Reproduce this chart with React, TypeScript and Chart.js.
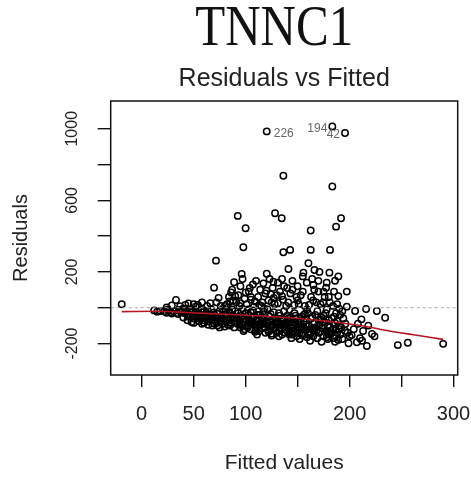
import React, { useEffect, useRef } from 'react';
import { Chart, registerables } from 'chart.js';

Chart.register(...registerables);

const mainTitle = 'TNNC1';
const caption = 'Residuals vs Fitted';
const xTitle = 'Fitted values';
const yTitle = 'Residuals';

const xMin = -29.8;
const xMax = 304;
const yMin = -376;
const yMax = 1155;

const xTickValues = [0, 50, 100, 150, 200, 250, 300];
const xTickLabels = ['0', '50', '100', '', '200', '', '300'];
const yTickValues = [-200, 0, 200, 400, 600, 800, 1000];
const yTickLabels = ['-200', '', '200', '', '600', '', '1000'];

const fittedValues = [
  120.3, 183.4, 195.6,
  136.3, 183.4, 92.4, 128.3, 134.7, 191.8, 187.0, 100.0, 162.6,
  97.8, 136.3, 142.8, 162.6, 181.2, 71.5, 141.2, 160.4, 166.2, 155.6, 171.0, 180.6,
  189.2, 186.0, 158.8, 165.2, 120.3, 126.7, 117.1, 96.2, 88.9, 69.6, 177.4, 197.3,
  189.2, 174.6, 197.3, 205.3, 215.9, 226.2, 234.2, 211.4, 221.6, 246.4, 256.0, 216.6,
  207.0, 199.0, 210.0, 202.0, 195.6, -19.2, 33.0, 290.0, 204.0, 208.0, 213.0, 218.0,
  224, 212, 15, 18, 12, 22, 24, 26, 28, 25, 29, 31,
  34, 36, 38, 35, 39, 37, 45, 41, 42, 44, 46, 48,
  47, 49, 43, 54, 51, 52, 53, 55, 56, 57, 58, 59,
  52, 56, 61, 62, 63, 64, 65, 66, 67, 68, 69, 63,
  66, 69, 60, 62, 71, 72, 73, 74, 75, 76, 77, 78,
  79, 72, 74, 76, 78, 73, 81, 82, 83, 84, 85, 86,
  87, 88, 89, 82, 84, 86, 88, 87, 85, 83, 91, 92,
  93, 94, 95, 96, 97, 98, 99, 91, 93, 95, 97, 99,
  94, 90, 96, 98, 101, 102, 103, 104, 105, 106, 107, 108,
  109, 101, 103, 105, 107, 109, 102, 104, 106, 108, 110, 111,
  112, 113, 114, 115, 116, 117, 118, 119, 112, 114, 116, 118,
  119, 111, 113, 115, 120, 121, 122, 123, 124, 125, 126, 127,
  128, 129, 122, 124, 126, 128, 130, 121, 123, 125, 127, 129,
  138, 131, 132, 133, 134, 135, 136, 137, 139, 131, 133, 135,
  137, 139, 132, 134, 136, 138, 140, 131, 141, 142, 143, 144,
  145, 146, 147, 148, 149, 141, 143, 145, 147, 149, 142, 144,
  146, 148, 150, 150, 151, 152, 153, 154, 155, 156, 157, 158,
  159, 151, 153, 155, 157, 159, 152, 154, 156, 160, 160, 161,
  162, 163, 164, 165, 166, 167, 168, 169, 161, 163, 164, 166,
  168, 170, 162, 167, 169, 170, 171, 172, 173, 174, 175, 176,
  177, 178, 179, 172, 176, 178, 180, 173, 175, 179, 181, 182,
  183, 184, 185, 186, 187, 188, 189, 181, 184, 186, 190, 185,
  191, 192, 193, 194, 196, 198, 191, 193, 200,
  40, 44, 48, 50, 55, 58, 60, 64, 68, 70, 75, 80,
  80, 85, 90, 95, 100, 105, 110, 115, 120, 125, 130, 135,
  140, 145, 150, 155, 165, 170, 175, 180, 185, 188, 190, 178,
  24, 29, 37, 42, 50, 58,
  57, 63, 70, 77, 83, 89, 96, 103, 110, 117, 124, 131,
  138, 145, 152, 159, 166, 173, 180, 187, 62, 88, 113, 148,
  45, 50, 54, 59, 64, 68, 72, 76, 81, 85, 90, 94,
  98, 102, 106, 110, 114, 118, 122, 126, 130, 134, 138, 142,
  146, 150, 154, 158, 162, 166, 170, 174, 178, 182, 186, 190,
  100, 108, 116, 124, 132, 140, 148, 156, 164, 172, 180, 188,
  87, 93, 99, 105, 111, 117, 123, 129, 135, 141, 147, 153,
];

const residualValues = [
  985, 1013, 976,
  737, 677, 513, 528, 500, 500, 453, 444, 431,
  338, 310, 323, 323, 323, 263, 216, 248, 211, 196, 200, 196,
  174, 151, 140, 127, 190, 145, 136, 189, 142, 112, 112, 90,
  65, 30, 6, -18, -7, -18, -56, -65, -147, -209, -196, -214,
  -193, -199, -171, -153, -129, 19, 43, -202, -120, -90, -130, -100,
  -160, -185, -22, -18, -15, -20, -28, -15, -25, -10, -32, -20,
  -30, -12, -25, -35, -8, -18, 24, -30, -15, -38, -20, -28,
  -45, -10, -5, 16, -35, -22, -45, -30, -50, -12, -40, -25,
  5, -60, -45, -30, -55, -20, -65, -38, -10, -50, -70, 10,
  25, -28, -15, -60, -50, -75, -35, -60, -20, -80, -45, -5,
  -65, 30, 55, 10, -90, -100, -40, -70, -95, -25, -55, -85,
  -10, -60, -110, 20, 60, 85, 40, 100, -30, 0, -60, -90,
  -30, -75, -110, -45, -5, -80, -120, 30, 70, 120, 160, 50,
  10, -20, -95, -130, -70, -100, -40, -85, -120, -55, -15, -95,
  -135, 20, 90, 60, 130, 35, -10, 110, -75, 5, -110, -60,
  -100, -130, -40, -80, -115, -20, -90, -140, 60, 100, 30, -5,
  80, -150, 15, -55, -75, -90, -125, -50, -105, -145, -70, -25,
  -115, -85, 40, 75, 110, 20, -60, -10, 160, -155, 55, -130,
  -100, -80, -130, -45, -110, -150, -65, -20, -125, 25, 90, 65,
  120, 10, -160, -95, 45, -140, -70, 140, -90, -135, -55, -115,
  -150, -75, -30, -120, -160, 30, 80, 100, 15, 60, -10, -170,
  -100, -45, -140, 40, -95, -140, -60, -120, -155, -80, -35, -125,
  -165, 20, 70, 90, 10, -10, -175, -50, -110, -150, -30, -100,
  -140, -60, -120, -160, -85, -40, -130, -170, 15, 60, 160, 100,
  30, -70, -185, -110, -20, 90, -95, -135, -55, -115, -160, -80,
  -30, -130, -175, 20, 60, -10, -150, -190, -45, -100, -110, -145,
  -60, -120, -170, -85, -30, -140, -180, 30, 10, -190, -100, -50,
  -150, -110, -175, -60, -90, -140, -40, -20, -160,
  -55, -70, -80, -85, -75, -90, -85, -95, -100, -90, -110, -105,
  10, 35, 65, 25, 85, 45, 150, 10, 95, 30, 70, 160,
  110, 150, 120, 175, 40, 150, 90, 60, 90, 20, -5, 140,
  2, 12, 8, 15, 20, 30,
  -62, -48, -68, -58, -72, -52, -88, -66, -92, -78, -100, -88,
  -108, -95, -118, -105, -128, -112, -138, -125, -35, -45, -40, -85,
  -50, -60, -55, -70, -75, -60, -85, -70, -80, -100, -75, -95,
  -65, -110, -90, -125, -100, -110, -135, -95, -140, -120, -85, -150,
  -130, -110, -145, -95, -150, -120, -140, -100, -165, -130, -155, -120,
  -30, -50, -60, -35, -30, -45, -60, -40, -50, -65, -70, -75,
  -45, -55, -60, -25, -40, -65, -80, -70, -90, -60, -85, -75,
];

// lowess smoother
const smoothX = [-19.2, 15, 46, 85, 120, 149, 181, 213, 229, 260, 290];
const smoothY = [-22, -20, -28, -38, -48, -59, -78, -102, -120, -150, -177];

// identified observations
const labelIds = ['226', '194', '42'];
const labelIndex = [0, 1, 2];
const labelSide = ['right', 'left', 'left'];

const sans = '"Liberation Sans", Arial, Helvetica, sans-serif';

const decorPlugin = {
  id: 'decor',
  afterDatasetsDraw(chart: any) {
    const { ctx, chartArea: a, scales } = chart;
    ctx.save();
    ctx.strokeStyle = '#111';
    ctx.lineWidth = 1.5;
    ctx.strokeRect(a.left, a.top, a.right - a.left, a.bottom - a.top);

    ctx.fillStyle = '#666';
    ctx.font = `12px ${sans}`;
    ctx.textBaseline = 'middle';
    labelIndex.forEach((idx, i) => {
      const px = scales.x.getPixelForValue(fittedValues[idx]);
      const py = scales.y.getPixelForValue(residualValues[idx]);
      const right = labelSide[i] === 'right';
      ctx.textAlign = right ? 'left' : 'right';
      ctx.fillText(labelIds[i], px + (right ? 7 : -5), py + 2);
    });
    ctx.restore();
  },
  afterDraw(chart: any) {
    const { ctx, chartArea: a } = chart;
    ctx.save();
    ctx.fillStyle = '#111';
    ctx.font = '57px "Liberation Serif", "Times New Roman", serif';
    ctx.textAlign = 'center';
    ctx.textBaseline = 'alphabetic';
    ctx.translate((a.left + a.right) / 2 - 10, 45);
    ctx.scale(0.86, 1);
    ctx.fillText(mainTitle, 0, 0);
    ctx.restore();
  },
};

const noOverflow = (s: any) => {
  s.paddingLeft = 0;
  s.paddingRight = 0;
  s.paddingTop = 0;
  s.paddingBottom = 0;
};

export default function App() {
  const ref = useRef<HTMLCanvasElement>(null);

  useEffect(() => {
    const points = fittedValues.map((x, i) => ({ x, y: residualValues[i] }));
    const smooth = smoothX.map((x, i) => ({ x, y: smoothY[i] }));
    const zero = [{ x: xMin, y: 0 }, { x: xMax, y: 0 }];

    const chart = new Chart(ref.current as HTMLCanvasElement, {
      type: 'scatter',
      data: {
        datasets: [
          {
            type: 'line',
            data: zero,
            borderColor: '#a8a8a8',
            borderWidth: 1,
            borderDash: [3, 3],
            pointRadius: 0,
            order: 0,
          } as any,
          {
            type: 'line',
            data: smooth,
            borderColor: '#b3161e',
            borderWidth: 1.6,
            pointRadius: 0,
            cubicInterpolationMode: 'monotone',
            order: 1,
          } as any,
          {
            type: 'scatter',
            data: points,
            pointRadius: 3.2,
            pointHoverRadius: 3.2,
            borderColor: '#000',
            backgroundColor: 'rgba(0,0,0,0)',
            borderWidth: 1.5,
            order: 2,
          } as any,
        ],
      },
      options: {
        responsive: false,
        animation: false,
        devicePixelRatio: 1,
        layout: { padding: { left: 0, right: 13.3, top: 0, bottom: 0 } },
        plugins: {
          legend: { display: false },
          tooltip: { enabled: false },
          title: {
            display: true,
            text: caption,
            fullSize: false,
            color: '#222',
            font: { family: sans, size: 25, weight: 'normal', lineHeight: 1 },
            padding: { top: 66.5, bottom: 9.5 },
          },
        },
        scales: {
          x: {
            type: 'linear',
            min: xMin,
            max: xMax,
            afterBuildTicks: (s: any) => {
              s.ticks = xTickValues.map((v) => ({ value: v }));
            },
            afterFit: (s: any) => {
              s.height = 102;
              noOverflow(s);
            },
            border: { display: false },
            grid: {
              display: true,
              drawOnChartArea: false,
              drawTicks: true,
              tickLength: 12,
              color: '#111',
              lineWidth: 1.4,
            },
            ticks: {
              autoSkip: false,
              maxRotation: 0,
              minRotation: 0,
              padding: 17.5,
              color: '#222',
              font: { family: sans, size: 20, lineHeight: 1 },
              callback: (v: any) => {
                const i = xTickValues.indexOf(Number(v));
                return i >= 0 ? xTickLabels[i] : '';
              },
            },
            title: {
              display: true,
              text: xTitle,
              color: '#222',
              font: { family: sans, size: 21, lineHeight: 1 },
              padding: { top: 0, bottom: 3 },
            },
          },
          y: {
            type: 'linear',
            min: yMin,
            max: yMax,
            afterBuildTicks: (s: any) => {
              s.ticks = yTickValues.map((v) => ({ value: v }));
            },
            afterFit: (s: any) => {
              s.width = 110.7;
              noOverflow(s);
            },
            border: { display: false },
            grid: {
              display: true,
              drawOnChartArea: false,
              drawTicks: true,
              tickLength: 13,
              color: '#111',
              lineWidth: 1.4,
            },
            ticks: {
              autoSkip: false,
              minRotation: 90,
              maxRotation: 90,
              crossAlign: 'center',
              padding: 7,
              color: '#222',
              font: { family: sans, size: 16, lineHeight: 1 },
              callback: (v: any) => {
                const i = yTickValues.indexOf(Number(v));
                return i >= 0 ? yTickLabels[i] : '';
              },
            },
            title: {
              display: true,
              text: yTitle,
              color: '#222',
              font: { family: sans, size: 20, lineHeight: 1 },
              padding: { top: 11, bottom: 0 },
            },
          },
        },
      } as any,
      plugins: [decorPlugin],
    });

    return () => chart.destroy();
  }, []);

  return (
    <div style={{ position: 'absolute', left: 0, top: 0, width: 471, height: 477, background: '#fff' }}>
      <canvas ref={ref} width={471} height={477} style={{ display: 'block' }} />
    </div>
  );
}
